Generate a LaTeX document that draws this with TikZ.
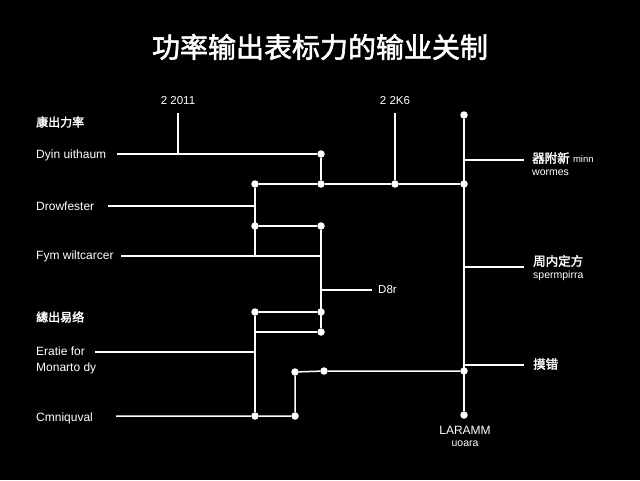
\documentclass[tikz,border=0pt]{standalone}
\usepackage{fontspec}
\setmainfont{Liberation Sans}
\newfontfamily\cjk{Noto Sans CJK SC}
\newfontfamily\cjkb{Noto Sans CJK SC}[FakeBold=2]
\begin{document}
\begin{tikzpicture}[x=1pt,y=-1pt,
  ln/.style={white,line width=1.5pt},
  dot/.style={circle,fill=white,inner sep=0pt,minimum size=7.5pt},
  lab/.style={white,anchor=west,inner sep=0pt,font=\fontsize{12}{14}\selectfont},
  clab/.style={white,anchor=west,inner sep=0pt,font=\cjkb\fontsize{12}{14}\selectfont},
  sm/.style={white,inner sep=0pt,font=\fontsize{11.5}{13}\selectfont}]
\fill[black] (0,0) rectangle (640,480);
\useasboundingbox (0,0) rectangle (640,480);
\node[white,font=\cjkb\fontsize{28}{32}\selectfont] (title) at (320,47) {功率输出表标力的输业关制};
% top labels
\node[sm] (y1) at (178,101) {2 2011};
\node[sm] (y2) at (395,101) {2 2K6};
% left labels
\node[clab] (h1) at (36,122) {康出力率};
\node[lab] (l1) at (36,155) {Dyin uithaum};
\node[lab] (l2) at (36,206) {Drowfester};
\node[lab] (l3) at (36,256) {Fym wiltcarcer};
\node[clab] (h2) at (36,317) {總出易络};
\node[lab,align=left,font=\fontsize{12}{16}\selectfont] (l4) at (36,360) {Eratie for\\Monarto dy};
\node[lab] (l5) at (36,418) {Cmniquval};
% coordinates
\coordinate (e1) at (117,154);
\coordinate (e2) at (108,206);
\coordinate (e3) at (121,256);
\coordinate (e4) at (95,352);
\coordinate (e5) at (116,416);
\coordinate (t1) at (178,113);
\coordinate (m1) at (178,154);
\coordinate (t2) at (395,113);
\node[dot] (a1) at (321,154) {};
\node[dot] (b0) at (255,184) {};
\node[dot] (b1) at (321,184) {};
\node[dot] (b2) at (395,184) {};
\node[dot] (b3) at (464,184) {};
\coordinate (v1) at (255,206);
\node[dot] (c0) at (255,226) {};
\node[dot] (c1) at (321,226) {};
\coordinate (v2) at (255,256);
\coordinate (v3) at (321,256);
\coordinate (v4) at (321,290);
\coordinate (v5) at (372,290);
\node[dot] (d0) at (255,312) {};
\node[dot] (d1) at (321,312) {};
\coordinate (f0) at (255,332);
\node[dot] (f1) at (321,332) {};
\coordinate (g0) at (255,352);
\node[dot] (k0) at (255,416) {};
\node[dot] (k1) at (295,416) {};
\node[dot] (n0) at (295,372) {};
\node[dot] (n1) at (324,371) {};
\node[dot] (n2) at (464,371) {};
\node[dot] (r0) at (464,115) {};
\node[dot] (r1) at (464,415) {};
\coordinate (q1) at (464,160);
\coordinate (q2) at (464,267);
\coordinate (q3) at (464,365);
\coordinate (s1) at (524,160);
\coordinate (s2) at (524,267);
\coordinate (s3) at (524,365);
\node[sm,anchor=west] (der) at (378,290) {D8r};
% right labels
\node[lab] (rl1) at (532,158) {{\cjkb\fontsize{12.5}{14}\selectfont 器附新} {\fontsize{9.5}{11}\selectfont minn}};
\node[lab,font=\fontsize{10.5}{12}\selectfont] (rl1b) at (532,173) {wormes};
\node[clab,font=\cjkb\fontsize{12.5}{14}\selectfont] (rl2) at (533,261) {周内定方};
\node[lab,font=\fontsize{10.5}{12}\selectfont] (rl2b) at (533,276) {spermpirra};
\node[clab,font=\cjkb\fontsize{12.5}{14}\selectfont] (rl3) at (533,364) {摸错};
\node[sm,font=\fontsize{12}{13}\selectfont] (bt) at (465,430) {LARAMM};
\node[sm,font=\fontsize{10.5}{12}\selectfont] (bt2) at (465,444) {uoara};
% lines
\draw[ln] (t1) -- (m1);
\draw[ln] (t2) -- (b2);
\draw[ln] (e1) -- (a1) -- (b1);
\draw[ln] (b0) -- (b1) -- (b2) -- (b3);
\draw[ln] (e2) -- (v1);
\draw[ln] (b0) -- (v2);
\draw[ln] (c0) -- (c1);
\draw[ln] (e3) -- (v3);
\draw[ln] (c1) -- (f1);
\draw[ln] (v4) -- (v5);
\draw[ln] (d0) -- (d1);
\draw[ln] (f0) -- (f1);
\draw[ln] (d0) -- (k0);
\draw[ln] (e4) -- (g0);
\draw[ln] (e5) -- (k0) -- (k1) -- (n0) -- (n1) -- (n2);
\draw[ln] (r0) -- (r1);
\draw[ln] (q1) -- (s1);
\draw[ln] (q2) -- (s2);
\draw[ln] (q3) -- (s3);
\end{tikzpicture}
\end{document}
